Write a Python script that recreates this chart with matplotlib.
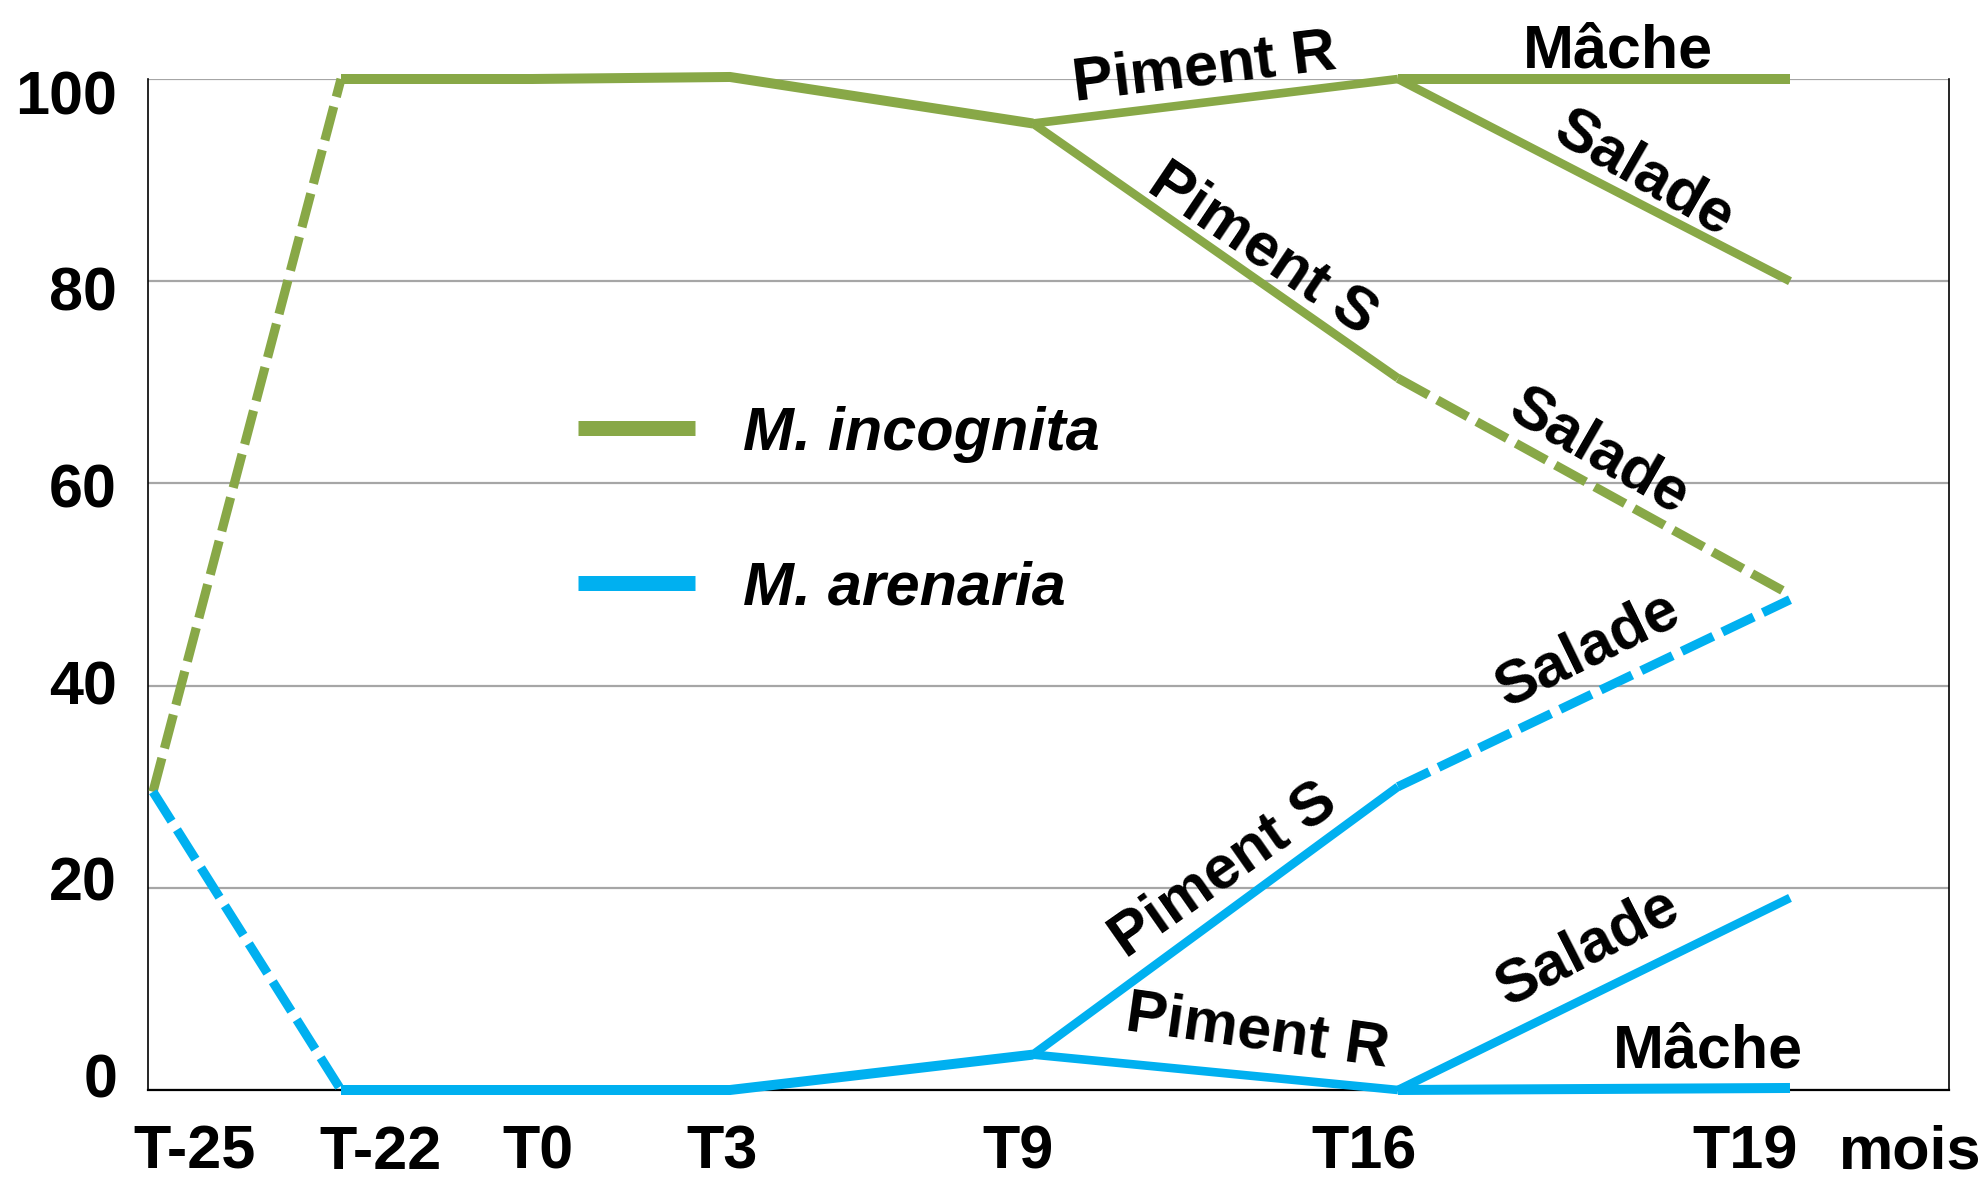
import matplotlib
matplotlib.use("Agg")
import matplotlib.pyplot as plt
from matplotlib.lines import Line2D

plt.rcParams["font.family"] = ["Liberation Sans", "DejaVu Sans"]
plt.rcParams["font.weight"] = "bold"

# ── Données ───────────────────────────────────────────────────────────────────
etapes = ["T-25", "T-22", "T0", "T3", "T9", "T16", "T19"]
# position horizontale de chaque étape (l'axe d'origine n'est pas proportionnel)
etapes_x = [0.05, 1.93, 3.84, 5.82, 8.85, 12.5, 16.42]

# M. incognita (%)
inc_avant = [29.5, 100]               # T-25 -> T-22, pointillé
inc_tronc = [100, 100, 100.2, 95.6]   # T-22, T0, T3, T9
inc_piment_r = [95.6, 100]            # T9 -> T16
inc_r_mache = [100, 100]              # T16 -> T19
inc_r_salade = [100, 80]              # T16 -> T19
inc_piment_s = [95.6, 70.4]           # T9 -> T16
inc_s_salade = [70.4, 49]             # T16 -> T19, pointillé

# M. arenaria (%)
are_avant = [29.5, 0]
are_tronc = [0, 0, 0, 3.5]
are_piment_s = [3.5, 30]
are_s_salade = [30, 48.5]             # pointillé
are_piment_r = [3.5, 0]
are_r_salade = [0, 19]
are_r_mache = [0, 0.2]

y_ticks = [0, 20, 40, 60, 80, 100]
x_labels = ["T-25", "T-22", "T0", "T3", "T9", "T16", "T19", "mois"]

# ── Styles ────────────────────────────────────────────────────────────────────
VERT = "#88A847"
BLEU = "#00B0F0"
GRILLE = "#A6A6A6"
LW_TRONC = 7.2
LW_BRANCHE = 6.2
LW_TIRETS = 6.6
FS = 44

X = dict(zip(etapes, etapes_x))


def trace(ax, noms, valeurs, couleur, lw, pointille=False):
    xs = [X[n] for n in noms]
    kw = dict(color=couleur, lw=lw, clip_on=False, solid_capstyle="butt",
              solid_joinstyle="miter", zorder=3)
    if pointille:
        kw["dashes"] = (3.8, 1.1)
        kw["dash_capstyle"] = "butt"
    ax.plot(xs, valeurs, **kw)


fig = plt.figure(figsize=(19.85, 11.88), dpi=100)
ax = fig.add_axes([148 / 1985, 98 / 1188, 1801 / 1985, 1011 / 1188])
ax.set_xlim(0, 18.01)
ax.set_ylim(0, 100)

# grille et axes
ax.set_yticks(y_ticks)
ax.set_yticklabels([])
ax.yaxis.grid(True, color=GRILLE, lw=1.6)
ax.set_axisbelow(True)
ax.tick_params(axis="both", length=0)
ax.spines["top"].set_visible(False)
ax.spines["left"].set_linewidth(1.2)
ax.spines["right"].set_linewidth(1.2)
ax.spines["bottom"].set_linewidth(1.6)

# étiquettes de l'axe x (placées comme sur l'original)
ax.set_xticks([0.47, 2.32, 3.90, 5.74, 8.70, 12.16, 15.97, 17.62])
ax.set_xticklabels(x_labels, fontsize=FS, fontweight="bold")
ax.tick_params(axis="x", pad=25)

# étiquettes de l'axe y
for v in y_ticks:
    ax.text(-0.31, -0.7 + v * 0.972, str(v), ha="right", va="baseline",
            fontsize=FS, fontweight="bold", clip_on=False)

# ── Courbes ───────────────────────────────────────────────────────────────────
trace(ax, ["T-25", "T-22"], inc_avant, VERT, LW_TIRETS, pointille=True)
trace(ax, ["T-22", "T0", "T3", "T9"], inc_tronc, VERT, LW_TRONC)
trace(ax, ["T9", "T16"], inc_piment_r, VERT, LW_BRANCHE)
trace(ax, ["T16", "T19"], inc_r_mache, VERT, LW_TRONC)
trace(ax, ["T16", "T19"], inc_r_salade, VERT, LW_BRANCHE)
trace(ax, ["T9", "T16"], inc_piment_s, VERT, LW_BRANCHE)
trace(ax, ["T16", "T19"], inc_s_salade, VERT, LW_TIRETS, pointille=True)

trace(ax, ["T-25", "T-22"], are_avant, BLEU, LW_TIRETS, pointille=True)
trace(ax, ["T-22", "T0", "T3", "T9"], are_tronc, BLEU, LW_TRONC)
trace(ax, ["T9", "T16"], are_piment_s, BLEU, LW_BRANCHE)
trace(ax, ["T16", "T19"], are_s_salade, BLEU, LW_TIRETS, pointille=True)
trace(ax, ["T9", "T16"], are_piment_r, BLEU, LW_BRANCHE)
trace(ax, ["T16", "T19"], are_r_salade, BLEU, LW_BRANCHE)
trace(ax, ["T16", "T19"], are_r_mache, BLEU, LW_TRONC)

# ── Noms des cultures le long des branches ────────────────────────────────────
etiquettes = [
    ("Piment R", 10.57, 101.0, 7),
    ("Salade", 14.96, 90.6, -30),
    ("Piment S", 11.14, 83.1, -34),
    ("Salade", 14.51, 63.1, -30),
    ("Salade", 14.40, 43.5, 26),
    ("Piment S", 10.76, 21.7, 35),
    ("Piment R", 11.09, 5.7, -8),
    ("Salade", 14.40, 14.0, 27),
]
for txt, x, y, rot in etiquettes:
    ax.text(x, y, txt, rotation=rot, ha="center", va="center",
            fontsize=FS, fontweight="bold", clip_on=False, zorder=4)

ax.text(14.70, 101.1, "Mâche", ha="center", va="baseline",
        fontsize=FS, fontweight="bold", clip_on=False)
ax.text(15.60, 2.2, "Mâche", ha="center", va="baseline",
        fontsize=FS, fontweight="bold", clip_on=False)

# ── Légende ───────────────────────────────────────────────────────────────────
poignees = [Line2D([], [], color=VERT, lw=10.8, solid_capstyle="butt"),
            Line2D([], [], color=BLEU, lw=10.8, solid_capstyle="butt")]
ax.legend(poignees, ["M. incognita", "M. arenaria"],
          loc="upper left", bbox_to_anchor=(0.239, 0.677),
          frameon=False, borderpad=0, borderaxespad=0,
          handlelength=1.9, handletextpad=0.8, labelspacing=1.6,
          prop=dict(size=FS, weight="bold", style="italic"))

fig.savefig("out.png", dpi=100)
